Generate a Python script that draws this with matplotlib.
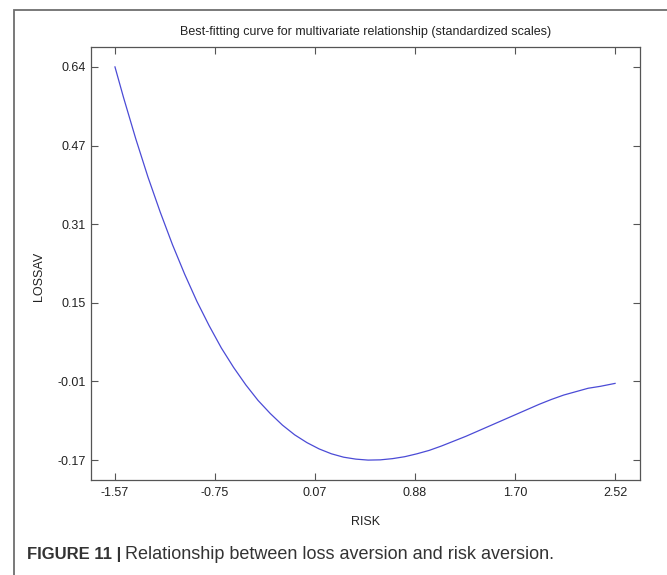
import numpy as np
import matplotlib.pyplot as plt
from matplotlib.patches import Rectangle

plt.rcParams['font.family'] = ['Liberation Sans', 'DejaVu Sans']

# curve (standardized RISK vs LOSSAV)
risk = [-1.57, -1.5, -1.4, -1.3, -1.2, -1.1, -1.0, -0.9, -0.8, -0.7, -0.6, -0.5,
        -0.4, -0.3, -0.2, -0.1, 0.0, 0.1, 0.2, 0.3, 0.4, 0.5, 0.6, 0.7, 0.8, 0.9,
        1.0, 1.1, 1.2, 1.3, 1.4, 1.5, 1.6, 1.7, 1.8, 1.9, 2.0, 2.1, 2.2, 2.3, 2.4, 2.52]
lossav = [0.64, 0.577, 0.492, 0.413, 0.341, 0.274, 0.213, 0.157, 0.107, 0.061, 0.021,
          -0.015, -0.047, -0.074, -0.098, -0.118, -0.134, -0.147, -0.157, -0.164,
          -0.168, -0.170, -0.1695, -0.167, -0.163, -0.157, -0.150, -0.141, -0.131,
          -0.121, -0.110, -0.099, -0.088, -0.077, -0.066, -0.055, -0.045, -0.036,
          -0.029, -0.022, -0.018, -0.012]

xticks = [-1.57, -0.752, 0.066, 0.884, 1.702, 2.52]
xlabels = ['-1.57', '-0.75', '0.07', '0.88', '1.70', '2.52']
yticks = [-0.17, -0.008, 0.154, 0.316, 0.478, 0.64]
ylabels = ['-0.17', '-0.01', '0.15', '0.31', '0.47', '0.64']

W, H = 667, 575
fig = plt.figure(figsize=(W / 100, H / 100), dpi=100)
ax = fig.add_axes([91 / W, 1 - 480 / H, 549 / W, 433 / H])

ax.plot(risk, lossav, color='#4b4bd6', lw=0.9)

ax.set_xlim(-1.766, 2.724)
ax.set_ylim(-0.211, 0.681)
ax.set_xticks(xticks)
ax.set_xticklabels(xlabels)
ax.set_yticks(yticks)
ax.set_yticklabels(ylabels)
ax.tick_params(direction='in', length=5, width=0.8, color='#555555',
               top=True, right=True, labelsize=9, labelcolor='#222222', pad=3.5)
ax.tick_params(axis='x', pad=5)
for s in ax.spines.values():
    s.set_color('#555555')
    s.set_linewidth(0.9)

ax.set_xlabel('RISK', fontsize=9, color='#222222')
ax.xaxis.set_label_coords(0.5, -0.083)
ax.set_ylabel('LOSSAV', fontsize=9, color='#222222')
ax.yaxis.set_label_coords(-0.084, 0.47)
ax.text(0.5, 1.035, 'Best-fitting curve for multivariate relationship (standardized scales)',
        transform=ax.transAxes, ha='center', va='center', fontsize=9, color='#222222')

# outer frame of the figure panel
fig.patches.append(Rectangle((14 / W, -0.2), 1.2, 1.2 - 9.5 / H, transform=fig.transFigure,
                             fill=False, edgecolor='#6e6e6e', lw=1.3, clip_on=False))

# caption, both parts on one baseline
cap_y = 1 - 559 / H
t1 = fig.text(27 / W, cap_y, 'FIGURE 11 |', fontsize=12, fontweight='bold',
              color='#333333', va='baseline')
fig.canvas.draw()
bb = t1.get_window_extent()
fig.text((bb.x1 + 4) / W, cap_y, 'Relationship between loss aversion and risk aversion.',
         fontsize=13, color='#333333', va='baseline')

fig.savefig('out.png', dpi=100)
